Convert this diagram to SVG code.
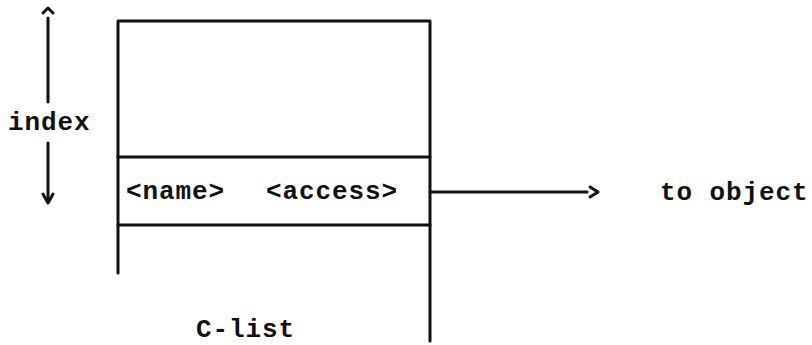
<svg xmlns="http://www.w3.org/2000/svg" width="812" height="345" viewBox="0 0 812 345">
  <style>
    .ln { stroke: #111; stroke-width: 3; fill: none; stroke-linecap: round; stroke-linejoin: round; }
    .tx { font-family: "Liberation Mono", "DejaVu Sans Mono", monospace; font-weight: bold; font-size: 26px; letter-spacing: 0.9px; fill: #111; }
  </style>
  <rect width="812" height="345" fill="#fff"/>

  <!-- index axis: vertical arrow on the left -->
  <g id="index-axis">
    <polyline class="ln" points="43,13 48,8 53,13"/>
    <line class="ln" x1="48" y1="18" x2="48" y2="102"/>
    <text class="tx" x="8" y="130">index</text>
    <line class="ln" x1="48" y1="143" x2="48" y2="200"/>
    <polyline class="ln" points="43,194 48,203 53,194"/>
  </g>

  <!-- capability list column -->
  <g id="c-list">
    <polyline class="ln" points="118,273 118,21 430,21 430,341"/>
    <text class="tx" x="196" y="337">C-list</text>
  </g>

  <!-- selected entry -->
  <g id="entry">
    <line class="ln" x1="118" y1="157" x2="430" y2="157"/>
    <line class="ln" x1="118" y1="225" x2="430" y2="225"/>
    <text class="tx" x="126" y="199">&lt;name&gt;</text>
    <text class="tx" x="266" y="199">&lt;access&gt;</text>
  </g>

  <!-- target object -->
  <g id="object">
    <text class="tx" x="660" y="200">to object</text>
  </g>

  <g id="connectors">
    <line class="ln" x1="430" y1="192" x2="587" y2="192"/>
    <polyline class="ln" points="590,187 598,192 590,197"/>
  </g>
</svg>
